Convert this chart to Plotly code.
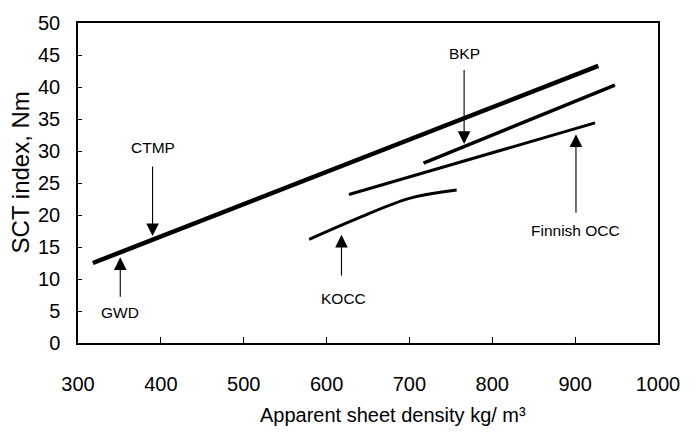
import plotly.graph_objects as go

# Line data (apparent sheet density kg/m3, SCT index Nm)
main_x = [318, 928]
main_y = [12.5, 43.3]
bkp_x = [717, 948]
bkp_y = [28.1, 40.3]
finnish_x = [627, 924]
finnish_y = [23.2, 34.4]
kocc_x = [579, 636, 700, 757]
kocc_y = [16.2, 19.4, 22.6, 23.9]

# Arrow labels: text, label position, arrow tip, arrow tail
labels = ["CTMP", "GWD", "BKP", "Finnish OCC", "KOCC"]
label_x = [390, 351, 766, 901, 620]
label_y = [30.5, 4.7, 45.3, 17.6, 7.0]
tip_x = [390, 351, 766, 901, 618]
tip_y = [16.7, 13.4, 31.1, 32.6, 16.9]
tail_y = [27.8, 7.0, 42.9, 20.1, 10.3]

x_ticks = [300, 400, 500, 600, 700, 800, 900, 1000]
y_ticks = [0, 5, 10, 15, 20, 25, 30, 35, 40, 45, 50]

narrow = "Liberation Sans Narrow, Arial Narrow, Liberation Sans, Arial"

fig = go.Figure()
for xs, ys, w in [(main_x, main_y, 4.5), (bkp_x, bkp_y, 3.5),
                  (finnish_x, finnish_y, 3), (kocc_x, kocc_y, 3)]:
    fig.add_trace(go.Scatter(x=xs, y=ys, mode="lines",
                             line=dict(color="black", width=w, shape="spline"),
                             showlegend=False, hoverinfo="skip"))

annotations = []
for t, lx, ly, tx, ty, ay in zip(labels, label_x, label_y, tip_x, tip_y, tail_y):
    annotations.append(dict(x=tx, y=ty, ax=tx, ay=ay, xref="x", yref="y",
                            axref="x", ayref="y", text="", showarrow=True,
                            arrowhead=2, arrowsize=2.3, arrowwidth=1.1,
                            arrowcolor="black"))
    annotations.append(dict(x=lx, y=ly, xref="x", yref="y", text=t,
                            showarrow=False,
                            font=dict(family=narrow, size=15.5, color="black")))

annotations.append(dict(x=0.543, y=-0.224, xref="paper", yref="paper",
                        xanchor="center", yanchor="middle",
                        text="Apparent sheet density kg/ m³", showarrow=False,
                        font=dict(family=narrow, size=20, color="black")))
annotations.append(dict(x=-0.1, y=0.533, xref="paper", yref="paper",
                        xanchor="center", yanchor="middle",
                        text="SCT index, Nm", showarrow=False, textangle=-90,
                        font=dict(family="Liberation Sans, Arial", size=24, color="black")))

fig.update_layout(
    width=698, height=434,
    margin=dict(l=78, r=40, t=13, b=91),
    paper_bgcolor="white", plot_bgcolor="white",
    annotations=annotations,
    xaxis=dict(range=[300, 1000], tickvals=x_ticks, ticks="inside", ticklen=6,
               tickcolor="black", showline=True, linecolor="black", linewidth=1.5,
               mirror=True, showgrid=False, zeroline=False,
               ticklabelstandoff=22,
               tickfont=dict(family=narrow, size=20, color="black")),
    yaxis=dict(range=[0, 50], tickvals=y_ticks, ticks="inside", ticklen=4,
               tickcolor="black", showline=True, linecolor="black", linewidth=1.5,
               mirror=True, showgrid=False, zeroline=False,
               ticklabelstandoff=12,
               tickfont=dict(family=narrow, size=20, color="black")),
)

fig.write_html("out.html")
